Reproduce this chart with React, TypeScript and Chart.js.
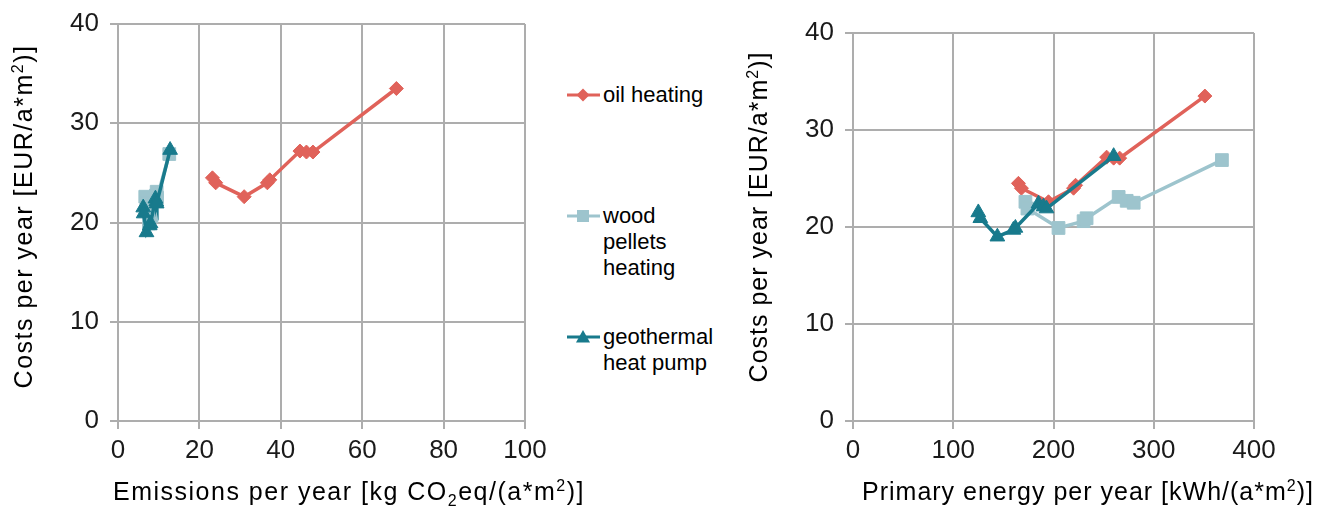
import React, { useEffect, useRef } from "react";
import { Chart, registerables } from "chart.js";

Chart.register(...registerables);

// ---- data ----
const oilCosts = [24.5, 24.0, 22.6, 24.0, 24.3, 27.2, 27.1, 27.1, 33.5];
const oilEmissions = [23.2, 24.0, 31.0, 36.7, 37.3, 44.7, 46.3, 47.9, 68.4];
const oilPrimary = [165, 168, 195, 220, 222, 253, 260, 266, 351];

const woodCosts = [22.6, 21.9, 19.9, 20.6, 20.9, 23.1, 22.7, 22.5, 26.9];
const woodEmissions = [6.7, 7.0, 7.6, 8.2, 8.4, 9.5, 9.3, 9.6, 12.6];
const woodPrimary = [172, 174, 205, 230, 233, 265, 273, 280, 368];

const geoCosts = [21.5, 20.9, 19.0, 19.7, 19.9, 22.4, 22.1, 21.9, 27.3];
const geoEmissions = [6.2, 6.3, 7.0, 7.8, 8.0, 9.2, 9.4, 9.5, 12.8];
const geoPrimary = [125, 127, 144, 160, 162, 185, 190, 193, 260];

const seriesNames = ["oil heating", "wood pellets heating", "geothermal heat pump"];
const legendLines = [["oil heating"], ["wood", "pellets", "heating"], ["geothermal", "heat pump"]];

const yTicks = [0, 10, 20, 30, 40];
const xTicksLeft = [0, 20, 40, 60, 80, 100];
const xTicksRight = [0, 100, 200, 300, 400];

type Seg = { t: string; k?: "sub" | "sup" };
const yTitle: Seg[] = [{ t: "Costs per year [EUR/a*m" }, { t: "2", k: "sup" }, { t: ")]" }];
const xTitleLeft: Seg[] = [
  { t: "Emissions per year [kg CO" },
  { t: "2", k: "sub" },
  { t: "eq/(a*m" },
  { t: "2", k: "sup" },
  { t: ")]" },
];
const xTitleRight: Seg[] = [{ t: "Primary energy per year [kWh/(a*m" }, { t: "2", k: "sup" }, { t: ")]" }];

// ---- styles ----
const FONT = "'Liberation Sans', Arial, sans-serif";
const OIL = "#E0625A";
const WOOD = "#9DC4CD";
const GEO = "#187A8C";
const GRID = "#ADADAD";
const TEXT = "#1a1a1a";

const pts = (xs: number[], ys: number[]) => xs.map((x, i) => ({ x, y: ys[i] }));

function richWidth(ctx: CanvasRenderingContext2D, segs: Seg[], size: number) {
  let w = 0;
  for (const s of segs) {
    ctx.font = `${s.k ? Math.round(size * 0.65) : size}px ${FONT}`;
    w += ctx.measureText(s.t).width;
  }
  return w;
}
function drawRich(ctx: CanvasRenderingContext2D, segs: Seg[], size: number) {
  let x = 0;
  for (const s of segs) {
    const fs = s.k ? Math.round(size * 0.65) : size;
    ctx.font = `${fs}px ${FONT}`;
    const dy = s.k === "sub" ? size * 0.22 : s.k === "sup" ? -size * 0.38 : 0;
    ctx.fillText(s.t, x, dy);
    x += ctx.measureText(s.t).width;
  }
}

function titlesPlugin(xSegs: Seg[], xStartOffset: number, yBaseX: number, yCenterOffset: number, spacing: string) {
  return {
    id: "axisTitles",
    afterDraw(chart: any) {
      const { ctx, chartArea } = chart;
      const size = 25;
      ctx.save();
      ctx.fillStyle = "#000";
      ctx.textBaseline = "alphabetic";
      ctx.textAlign = "left";
      (ctx as any).letterSpacing = spacing;
      ctx.save();
      ctx.translate(chartArea.left + xStartOffset, 500);
      drawRich(ctx, xSegs, size);
      ctx.restore();
      const w = richWidth(ctx, yTitle, size);
      const cy = (chartArea.top + chartArea.bottom) / 2 + yCenterOffset;
      ctx.save();
      ctx.translate(yBaseX, cy + w / 2);
      ctx.rotate(-Math.PI / 2);
      drawRich(ctx, yTitle, size);
      ctx.restore();
      ctx.restore();
    },
  };
}

function buildConfig(
  oilX: number[],
  woodX: number[],
  geoX: number[],
  xTicks: number[],
  xSegs: Seg[],
  padTop: number,
  padRight: number,
  xStartOffset: number,
  yCenterOffset: number,
  spacing: string
): any {
  const common = { showLine: true, borderWidth: 3.5, pointBorderWidth: 1 };
  return {
    type: "scatter",
    data: {
      datasets: [
        {
          ...common,
          label: seriesNames[2],
          data: pts(geoX, geoCosts),
          borderColor: GEO,
          backgroundColor: GEO,
          pointStyle: "triangle",
          pointRadius: 8.5,
          order: 0,
        },
        {
          ...common,
          label: seriesNames[1],
          data: pts(woodX, woodCosts),
          borderColor: WOOD,
          backgroundColor: WOOD,
          pointStyle: "rect",
          pointRadius: 9,
          order: 1,
        },
        {
          ...common,
          label: seriesNames[0],
          data: pts(oilX, oilCosts),
          borderColor: OIL,
          backgroundColor: OIL,
          pointStyle: "rectRot",
          pointRadius: 7,
          order: 2,
        },
      ],
    },
    options: {
      animation: false,
      responsive: false,
      maintainAspectRatio: false,
      layout: { padding: { top: padTop, right: padRight, left: 0, bottom: 0 } },
      plugins: { legend: { display: false }, tooltip: { enabled: false }, title: { display: false } },
      scales: {
        x: {
          type: "linear",
          min: xTicks[0],
          max: xTicks[xTicks.length - 1],
          afterBuildTicks: (s: any) => {
            s.ticks = xTicks.map((v) => ({ value: v }));
          },
          ticks: { font: { size: 26, family: FONT }, color: TEXT, padding: 6, maxRotation: 0 },
          grid: { color: GRID, lineWidth: 2, tickLength: 8 },
          border: { color: GRID, width: 2 },
          afterFit: (s: any) => {
            s.height = 88;
            s.paddingLeft = 0;
            s.paddingRight = 0;
          },
        },
        y: {
          type: "linear",
          min: yTicks[0],
          max: yTicks[yTicks.length - 1],
          afterBuildTicks: (s: any) => {
            s.ticks = yTicks.map((v) => ({ value: v }));
          },
          ticks: { font: { size: 26, family: FONT }, color: TEXT, padding: 11 },
          grid: { color: GRID, lineWidth: 2, tickLength: 8 },
          border: { color: GRID, width: 2 },
          afterFit: (s: any) => {
            s.width = 118;
            s.paddingTop = 0;
            s.paddingBottom = 0;
          },
        },
      },
    },
    plugins: [titlesPlugin(xSegs, xStartOffset, 32, yCenterOffset, spacing)],
  };
}

function ChartCanvas({ config, left, width }: { config: () => any; left: number; width: number }) {
  const ref = useRef<HTMLCanvasElement | null>(null);
  useEffect(() => {
    if (!ref.current) return;
    const chart = new Chart(ref.current, config());
    return () => chart.destroy();
  }, []);
  return (
    <canvas
      ref={ref}
      width={width}
      height={509}
      style={{ position: "absolute", left, top: 0, width, height: 509 }}
    />
  );
}

function LegendIcon({ kind, color }: { kind: string; color: string }) {
  let marker: React.ReactNode = null;
  if (kind === "diamond") marker = <polygon points="16,1.5 22.5,8 16,14.5 9.5,8" fill={color} />;
  if (kind === "square") marker = <rect x="10" y="2" width="12" height="12" fill={color} />;
  if (kind === "triangle") marker = <polygon points="16,1 23,13.5 9,13.5" fill={color} />;
  return (
    <svg width="34" height="16" style={{ position: "absolute", left: 0, top: 0 }}>
      <line x1="0" y1="8" x2="33" y2="8" stroke={color} strokeWidth="3" />
      {marker}
    </svg>
  );
}

function Legend() {
  const items = [
    { kind: "diamond", color: OIL, cy: 95, lines: legendLines[0] },
    { kind: "square", color: WOOD, cy: 216, lines: legendLines[1] },
    { kind: "triangle", color: GEO, cy: 337, lines: legendLines[2] },
  ];
  return (
    <>
      {items.map((it, i) => (
        <div key={i} style={{ position: "absolute", left: 567, top: it.cy - 8 }}>
          <LegendIcon kind={it.kind} color={it.color} />
          <div
            style={{
              position: "absolute",
              left: 36,
              top: 8 - 13,
              fontFamily: FONT,
              fontSize: 22,
              lineHeight: "26px",
              color: "#000",
              whiteSpace: "nowrap",
            }}
          >
            {it.lines.map((l, j) => (
              <div key={j}>{l}</div>
            ))}
          </div>
        </div>
      ))}
    </>
  );
}

export default function App() {
  return (
    <div
      style={{
        position: "absolute",
        left: 0,
        top: 0,
        width: 1330,
        height: 509,
        background: "#fff",
        overflow: "hidden",
      }}
    >
      <Legend />
      <ChartCanvas
        left={0}
        width={610}
        config={() =>
          buildConfig(oilEmissions, woodEmissions, geoEmissions, xTicksLeft, xTitleLeft, 24, 85, -5, -6, "1.5px")
        }
      />
      <ChartCanvas
        left={735}
        width={595}
        config={() =>
          buildConfig(oilPrimary, woodPrimary, geoPrimary, xTicksRight, xTitleRight, 33, 76, 9, -10, "1px")
        }
      />
    </div>
  );
}
